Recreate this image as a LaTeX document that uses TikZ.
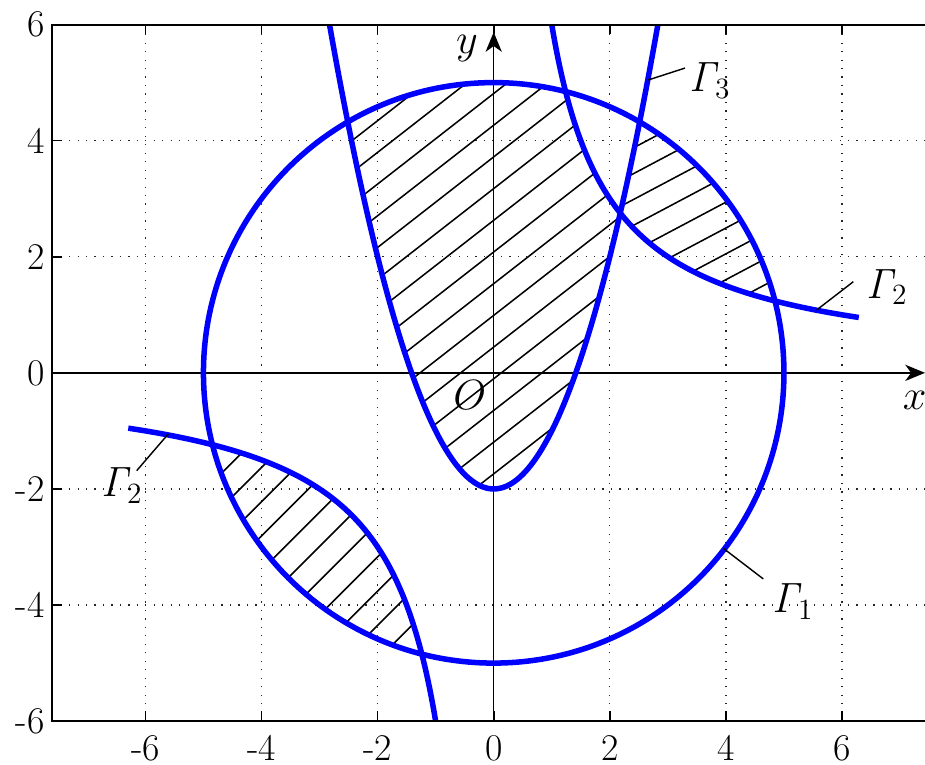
\documentclass[tikz,border=0pt]{standalone}
\usetikzlibrary{arrows.meta}
\begin{document}
\begin{tikzpicture}[x=1cm,y=1cm,
  curve/.style={draw=blue, line width=2.7pt, line join=round},
  hatchline/.style={line width=0.75pt, black},
  gridline/.style={black!85, line width=0.6pt, dash pattern=on 0.6pt off 3.55pt},
  frameline/.style={line width=1pt, black},
  tickline/.style={line width=0.8pt, black},
  axisline/.style={line width=0.7pt, black, -{Stealth[length=0.34cm,width=0.28cm,inset=0.1cm]}},
  leader/.style={line width=0.7pt, black},
  ticklabel/.style={font=\fontsize{18.5}{20}\selectfont, inner sep=0pt},
  curvelabel/.style={font=\fontsize{20}{22}\selectfont, inner sep=0pt},
  axislabel/.style={font=\fontsize{21}{23}\selectfont, inner sep=0pt},
]
\useasboundingbox (-8.505,-6.755) rectangle (7.43,6.423);
\clip (-8.505,-6.755) rectangle (7.43,6.423);

% grid
\foreach \gx in {-6,-4,-2,2,4,6} \draw[gridline] (\gx,-6) -- (\gx,6);
\foreach \gy in {-4,-2,2,4} \draw[gridline] (-7.607,\gy) -- (7.6,\gy);

% hatching: big region
\begin{scope}
  \clip plot[domain=-2.51433:2.17998, samples=80] (\x,{\x*\x-2})
     -- plot[domain=2.17998:1.23861, samples=40] (\x,{6/\x})
     arc[start angle=75.657, end angle=120.188, radius=5] -- cycle;
  \foreach \k in {-2,...,18}
    \draw[hatchline] (-8,{-0.78*8-1.74+0.546*\k}) -- (8,{0.78*8-1.74+0.546*\k});
\end{scope}
% hatching: right region
\begin{scope}
  \clip plot[domain=2.17998:2.51433, samples=20] (\x,{\x*\x-2})
     arc[start angle=59.812, end angle=14.343, radius=5]
     -- plot[domain=4.84416:2.17998, samples=40] (\x,{6/\x}) -- cycle;
  \foreach \k in {-3,...,13}
    \draw[hatchline] (-8,{-0.53*8+2.6-0.445*\k}) -- (8,{0.53*8+2.6-0.445*\k});
\end{scope}
% hatching: lower-left region
\begin{scope}
  \clip plot[domain=-4.84416:-1.23861, samples=60] (\x,{6/\x})
     arc[start angle=255.657, end angle=194.343, radius=5] -- cycle;
  \foreach \k in {-3,...,14}
    \draw[hatchline] (-8,{-8+2.96-0.59*\k}) -- (8,{8+2.96-0.59*\k});
\end{scope}

% axes
\draw[axisline] (-7.607,0) -- (7.43,0);
\draw[axisline] (0,-6) -- (0,5.87);

% curves
\draw[curve] (0,0) circle[radius=5];
\draw[curve] plot[domain=-2.8284:2.8284, samples=120] (\x,{\x*\x-2});
\draw[curve] plot[domain=1:6.29, samples=200] (\x,{6/\x});
\draw[curve] plot[domain=-6.295:-1, samples=200] (\x,{6/\x});

% frame
\draw[frameline] (7.6,6) -- (-7.607,6) -- (-7.607,-6) -- (7.6,-6);
\foreach \tx in {-6,-4,...,6} {
  \draw[tickline] (\tx,-6) -- (\tx,-5.83);
  \draw[tickline] (\tx,6) -- (\tx,5.83);
}
\foreach \ty in {-6,-4,...,6}
  \draw[tickline] (-7.607,\ty) -- (-7.435,\ty);

% tick labels
\foreach \tx/\tl in {-6/-6,-4/-4,-2/-2,0/0,2/2,4/4,6/6}
  \node[ticklabel, anchor=base] (xt\tx) at (\tx,-6.67) {\tl};
\foreach \ty/\tl in {-6/-6,-4/-4,-2/-2,0/0,2/2,4/4,6/6}
  \node[ticklabel, anchor=east] (yt\ty) at (-7.73,\ty) {\tl};

% axis labels
\node[axislabel] (ylab) at (-0.46,5.59) {$y$};
\node[axislabel] (xlab) at (7.25,-0.47) {$x$};
\node[axislabel] (olab) at (-0.41,-0.38) {$O$};

% curve labels
\node[curvelabel, anchor=base west] (g1) at (4.79,-4.137) {$\mathit{\Gamma}_1$};
\node[curvelabel, anchor=base west] (g2r) at (6.41,1.289) {$\mathit{\Gamma}_2$};
\node[curvelabel, anchor=base west] (g2l) at (-6.77,-2.133) {$\mathit{\Gamma}_2$};
\node[curvelabel, anchor=base west] (g3) at (3.36,4.843) {$\mathit{\Gamma}_3$};

% leaders
\coordinate (g1a) at (3.955,-3.022);
\coordinate (g1b) at (4.644,-3.55);
\coordinate (g2ra) at (5.564,1.083);
\coordinate (g2rb) at (6.195,1.570);
\coordinate (g2la) at (-5.606,-1.053);
\coordinate (g2lb) at (-6.15,-1.685);
\coordinate (g3a) at (2.658,5.044);
\coordinate (g3b) at (3.295,5.25);
\draw[leader] (g1a) -- (g1b);
\draw[leader] (g2ra) -- (g2rb);
\draw[leader] (g2la) -- (g2lb);
\draw[leader] (g3a) -- (g3b);
\end{tikzpicture}
\end{document}
